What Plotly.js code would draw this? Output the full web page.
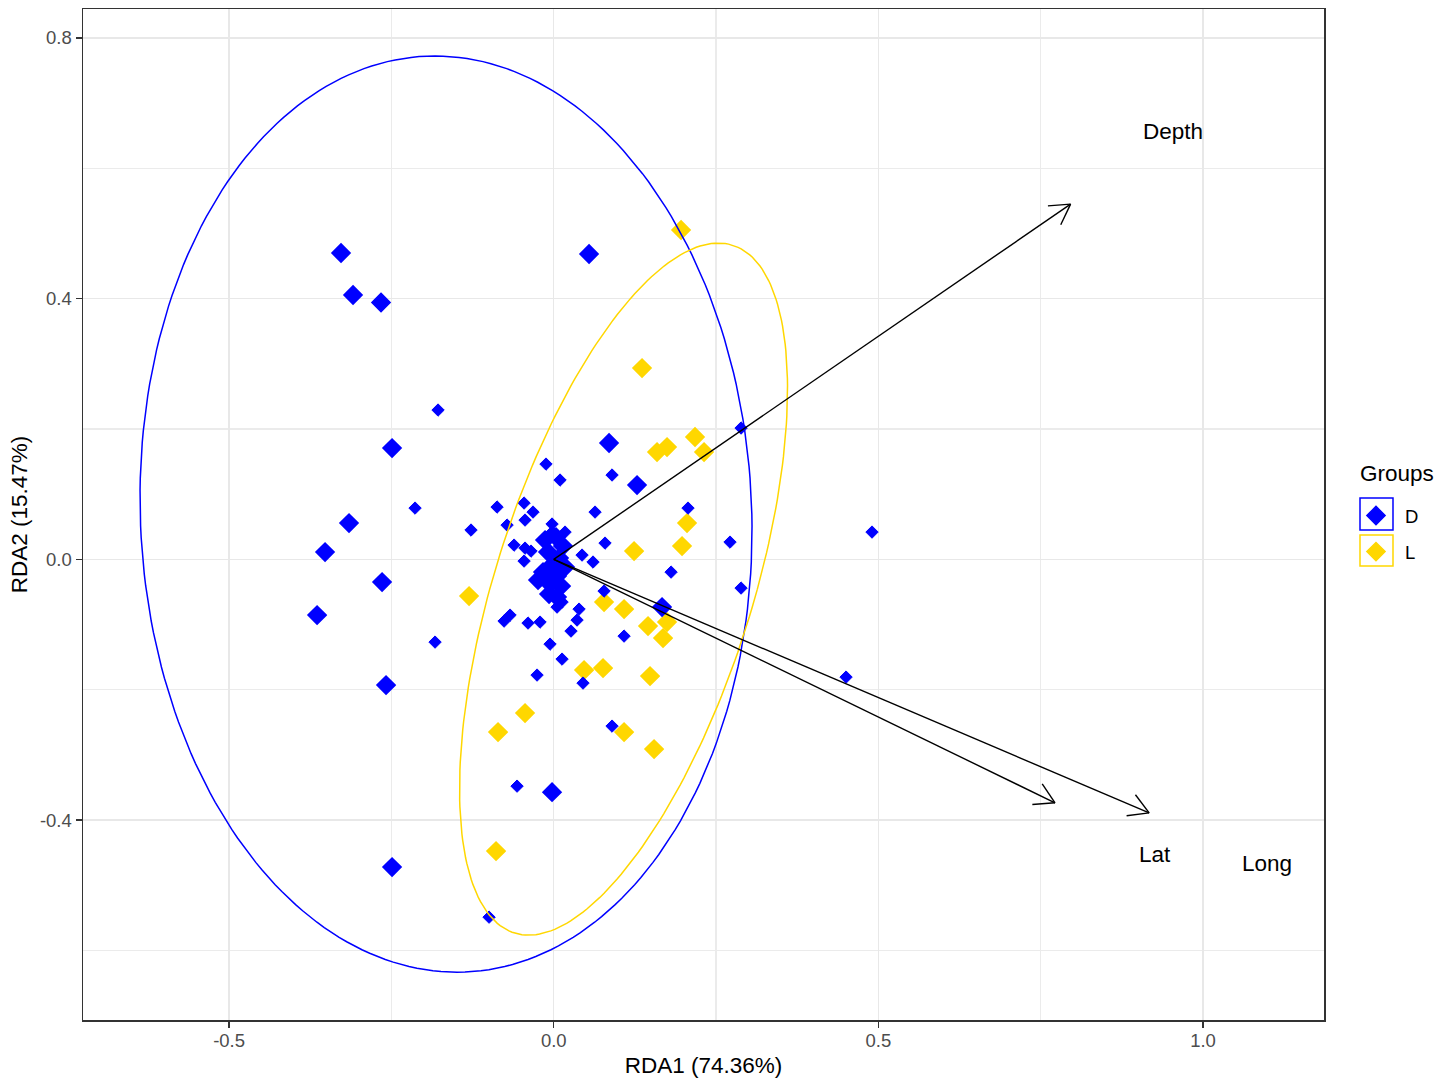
<!DOCTYPE html>
<html>
<head>
<meta charset="utf-8">
<script src="https://cdn.plot.ly/plotly-3.0.1.min.js"></script>
<style>html,body{margin:0;padding:0;background:#fff;}#chart{width:1449px;height:1078px;}</style>
</head>
<body>
<div id="chart"></div>
<script>
// ---------------- DATA ----------------
// Group D, large points
const dBigX = [-0.3276,-0.3091,-0.2660,0.0544,-0.2490,-0.3153,-0.3522,-0.2644,-0.3645,-0.2583,0.0852,0.1283,0.1668,-0.0026,-0.2490,
  -0.0134,0.0035,0.0143,-0.0088,0.0082,-0.0042,-0.0165,0.0051,0.0174,-0.0242,-0.0057,0.0112,-0.0072,0.0051];
const dBigY = [0.4700,0.4056,0.3941,0.4685,0.1708,0.0557,0.0112,-0.0348,-0.0855,-0.1929,0.1785,0.1140,-0.0732,-0.3571,-0.4721,
  0.0296,0.0342,0.0204,0.0112,0.0020,-0.0103,-0.0195,-0.0256,-0.0118,-0.0318,-0.0379,-0.0410,-0.0532,-0.0578];
// Group D, small points
const dSmallX = [-0.1782,-0.2136,-0.1274,-0.1828,-0.0873,-0.0457,-0.0442,-0.0319,-0.0719,-0.0611,-0.0442,-0.0350,-0.0457,-0.0026,-0.0026,0.0174,
  -0.0119,0.0097,0.0898,0.0636,0.0790,0.0436,0.0605,0.2068,0.2715,0.2885,0.1807,0.2885,0.0775,0.1083,-0.0765,-0.0673,-0.0396,-0.0211,
  0.0051,0.0128,0.0390,0.0359,0.0266,-0.0057,0.0128,-0.0257,0.0451,0.0898,-0.0565,-0.0996,0.4902,0.4502];
const dSmallY = [0.2291,0.0787,0.0450,-0.1269,0.0803,0.0864,0.0603,0.0726,0.0526,0.0219,0.0173,0.0127,-0.0026,0.0542,0.0419,0.0419,
  0.1462,0.1217,0.1294,0.0726,0.0250,0.0066,-0.0041,0.0787,0.0265,0.2015,-0.0195,-0.0440,-0.0486,-0.1177,-0.0947,-0.0855,-0.0977,-0.0962,
  -0.0732,-0.0655,-0.0763,-0.0931,-0.1100,-0.1300,-0.1530,-0.1775,-0.1898,-0.2558,-0.3479,-0.5489,0.0419,-0.1806];
// Group L
const lX = [0.1961,0.1360,0.1591,0.1745,0.2176,0.2315,0.2053,0.1976,0.1237,-0.1304,0.0775,0.1083,0.1452,0.1745,0.1683,0.0467,0.0759,0.1483,
  -0.0442,-0.0858,0.1083,0.1545,-0.0889];
const lY = [0.5053,0.2935,0.1646,0.1723,0.1877,0.1646,0.0557,0.0204,0.0127,-0.0563,-0.0655,-0.0763,-0.1023,-0.0962,-0.1208,-0.1699,-0.1668,-0.1791,
  -0.2358,-0.2650,-0.2650,-0.2911,-0.4476];

// Environmental vectors
const vecNames = ["Depth","Lat","Long"];
const vecX = [0.796,0.772,0.917];
const vecY = [0.545,-0.3735,-0.389];
const vecLabelX = [0.954,0.926,1.0983];
const vecLabelY = [0.6557,-0.4535,-0.4659];

// Group ellipses (center, axis terms)
const ellGroups = ["D","L"];
const ellCX = [-0.1659,0.1075];
const ellCY = [0.0695,-0.0456];
const ellA = [0.4710,0.2061];
const ellC = [-0.0169,0.1460];
const ellB = [0.7028,0.5309];

// Axes
const xTickVals = [-0.5,0.0,0.5,1.0];
const xTickText = ["-0.5","0.0","0.5","1.0"];
const xMinorVals = [-0.25,0.25,0.75];
const yTickVals = [-0.4,0.0,0.4,0.8];
const yTickText = ["-0.4","0.0","0.4","0.8"];
const yMinorVals = [-0.6,-0.2,0.2,0.6];

// ---------------- BUILD ----------------
const BLUE = "#0000FF", GOLD = "#FFD700";
const FONT = "Liberation Sans, Arial, sans-serif";
const traces = [];

traces.push({x:lX, y:lY, type:"scatter", mode:"markers", name:"L", legendgroup:"L", legendrank:2,
  marker:{symbol:"diamond", size:14, color:GOLD, line:{width:1.5, color:GOLD}}, hoverinfo:"skip"});
traces.push({x:dSmallX, y:dSmallY, type:"scatter", mode:"markers", name:"D", legendgroup:"D", showlegend:false,
  marker:{symbol:"diamond", size:9.5, color:BLUE, line:{width:1, color:BLUE}}, hoverinfo:"skip"});
traces.push({x:dBigX, y:dBigY, type:"scatter", mode:"markers", name:"D", legendgroup:"D", legendrank:1,
  marker:{symbol:"diamond", size:14, color:BLUE, line:{width:1.5, color:BLUE}}, hoverinfo:"skip"});

// ellipses
const ellColors = [BLUE, GOLD];
for (let g = 0; g < ellGroups.length; g++) {
  const ex = [], ey = [];
  const n = 240;
  for (let i = 0; i <= n; i++) {
    const t = 2*Math.PI*i/n;
    ex.push(ellCX[g] + ellA[g]*Math.cos(t) + ellC[g]*Math.sin(t));
    ey.push(ellCY[g] + ellB[g]*Math.sin(t));
  }
  traces.push({x:ex, y:ey, type:"scatter", mode:"lines", showlegend:false, hoverinfo:"skip",
    line:{color:ellColors[g], width:1.5}});
}

// arrows
const ax = [], ay = [];
const headLen = 0.035, headAng = Math.PI/6;
for (let i = 0; i < vecNames.length; i++) {
  ax.push(0, vecX[i], null);
  ay.push(0, vecY[i], null);
  const ang = Math.atan2(vecY[i], vecX[i]);
  for (const s of [1,-1]) {
    const a = ang + Math.PI + s*headAng;
    ax.push(vecX[i], vecX[i] + headLen*Math.cos(a), null);
    ay.push(vecY[i], vecY[i] + headLen*Math.sin(a), null);
  }
}
traces.push({x:ax, y:ay, type:"scatter", mode:"lines", showlegend:false, hoverinfo:"skip",
  line:{color:"#000000", width:1.4}});

const annotations = vecNames.map((nm, i) => ({
  x: vecLabelX[i], y: vecLabelY[i], xref:"x", yref:"y", text:nm, showarrow:false,
  xanchor:"center", yanchor:"middle", font:{family:FONT, size:22.5, color:"#000"}
}));
annotations.push({x:1.0274, y:0.5401, xref:"paper", yref:"paper", text:"Groups", showarrow:false,
  xanchor:"left", yanchor:"middle", font:{family:FONT, size:22.5, color:"#000"}});

const shapes = [
  {type:"rect", xref:"paper", yref:"paper", x0:1.02901, x1:1.05560, y0:0.48467, y1:0.51632, line:{color:BLUE, width:1.5}},
  {type:"rect", xref:"paper", yref:"paper", x0:1.02901, x1:1.05560, y0:0.44906, y1:0.47972, line:{color:GOLD, width:1.5}}
];

const axisCommon = {
  showline:true, mirror:true, linecolor:"#333333", linewidth:1.5,
  ticks:"outside", ticklen:6, tickwidth:1.3, tickcolor:"#333333",
  showgrid:true, gridcolor:"#E8E8E8", gridwidth:1.5, zeroline:false,
  tickfont:{family:FONT, size:18.5, color:"#4D4D4D"},
  tickmode:"array"
};

const layout = {
  width:1449, height:1078,
  margin:{l:83, r:125, t:9, b:58, pad:0},
  paper_bgcolor:"#fff", plot_bgcolor:"#fff",
  showlegend:true,
  legend:{x:1.01853, xanchor:"left", y:0.5173, yanchor:"top", itemwidth:48, tracegroupgap:9,
    font:{family:FONT, size:18.5, color:"#000"}, bgcolor:"rgba(0,0,0,0)", borderwidth:0},
  xaxis:Object.assign({}, axisCommon, {
    range:[-0.725, 1.1863], tickvals:xTickVals, ticktext:xTickText, ticklabelstandoff:-3,
    minor:{tickmode:"array", tickvals:xMinorVals, showgrid:true, gridcolor:"#EBEBEB", gridwidth:1.2, ticks:""},
    title:{text:"RDA1 (74.36%)", font:{family:FONT, size:22.5, color:"#000"}, standoff:8}
  }),
  yaxis:Object.assign({}, axisCommon, {
    range:[-0.7067, 0.8444], tickvals:yTickVals, ticktext:yTickText,
    minor:{tickmode:"array", tickvals:yMinorVals, showgrid:true, gridcolor:"#EBEBEB", gridwidth:1.2, ticks:""},
    title:{text:"RDA2 (15.47%)", font:{family:FONT, size:22.5, color:"#000"}, standoff:6}
  }),
  annotations:annotations,
  shapes:shapes,
  hovermode:false
};

Plotly.newPlot("chart", traces, layout, {staticPlot:true, displayModeBar:false});
</script>
</body>
</html>
